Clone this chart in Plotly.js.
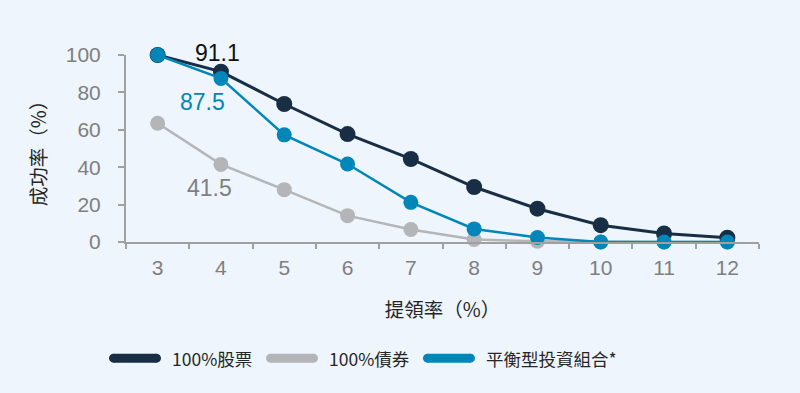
<!DOCTYPE html>
<html>
<head>
<meta charset="utf-8">
<script src="https://cdn.plot.ly/plotly-3.0.1.min.js"></script>
<style>html,body{margin:0;padding:0;background:#EEF5FD;}#chart{width:800px;height:393px;}</style>
</head>
<body>
<div id="chart"></div>
<script>
const categories = ['3','4','5','6','7','8','9','10','11','12'];
const stocks   = [100, 91.1, 73.8, 57.7, 44.4, 29.4, 17.8, 9.0, 4.6, 2.3];
const bonds    = [63.5, 41.5, 28.0, 14.1, 6.7, 1.3, 0.4, 0, 0, 0];
const balanced = [100, 87.5, 57.3, 41.7, 21.2, 7.0, 2.4, 0, 0, 0];
const seriesNames = ['100%股票', '100%債券', '平衡型投資組合*'];
const colors = ['#182E45', '#B4B5B8', '#0086B8'];
const labels = ['91.1', '87.5', '41.5'];

const bgc = '#EEF5FD';
const cjk = '"Noto Sans CJK TC", "Noto Sans", sans-serif';
const lat = '"Liberation Sans", Arial, sans-serif';

const traces = [
  {x: categories, y: bonds, name: seriesNames[1], mode: 'lines+markers',
   line: {color: colors[1], width: 2.5}, marker: {color: colors[1], size: 15}, cliponaxis: false, showlegend: false},
  {x: categories, y: stocks, name: seriesNames[0], mode: 'lines+markers',
   line: {color: colors[0], width: 3}, marker: {color: colors[0], size: 16}, cliponaxis: false, showlegend: false},
  {x: categories, y: balanced, name: seriesNames[2], mode: 'lines+markers',
   line: {color: colors[2], width: 2.5}, marker: {color: colors[2], size: 15}, cliponaxis: false, showlegend: false}
];

// custom legend (rounded bars built from a rect and two circles)
const legX = [[-0.0269, 0.0553], [0.2212, 0.3033], [0.4692, 0.5513]];
const legTextX = [0.0695, 0.3175, 0.5656];
const legY = -0.621;
const shapes = [];
const annotations = [];
[0, 1, 2].forEach((k, i) => {
  const cx = (legX[i][0] + legX[i][1]) / 2;
  const base = {xref: 'paper', yref: 'paper', xsizemode: 'pixel', ysizemode: 'pixel',
    xanchor: cx, yanchor: legY, fillcolor: colors[k], line: {width: 0}};
  shapes.push(Object.assign({}, base, {type: 'rect', x0: -21.5, x1: 21.5, y0: -4.5, y1: 4.5}));
  shapes.push(Object.assign({}, base, {type: 'circle', x0: -26, x1: -17, y0: -4.5, y1: 4.5}));
  shapes.push(Object.assign({}, base, {type: 'circle', x0: 17, x1: 26, y0: -4.5, y1: 4.5}));
  annotations.push({xref: 'paper', yref: 'paper', x: legTextX[i], y: legY, xanchor: 'left', yanchor: 'middle',
    text: seriesNames[k], showarrow: false, font: {family: cjk, size: 17.5, color: '#262626'}});
});

annotations.push({xref: 'paper', yref: 'paper', x: 0.145, y: 1.011, text: labels[0], showarrow: false,
  xanchor: 'center', yanchor: 'middle', font: {family: lat, size: 23, color: '#111111'}});
annotations.push({xref: 'paper', yref: 'paper', x: 0.1216, y: 0.749, text: labels[1], showarrow: false,
  xanchor: 'center', yanchor: 'middle', font: {family: lat, size: 23, color: colors[2]}});
annotations.push({xref: 'paper', yref: 'paper', x: 0.1327, y: 0.291, text: labels[2], showarrow: false,
  xanchor: 'center', yanchor: 'middle', font: {family: lat, size: 23, color: '#7F7F7F'}});

const layout = {
  width: 800, height: 393,
  paper_bgcolor: bgc, plot_bgcolor: bgc,
  margin: {l: 126, r: 41, t: 55, b: 150.5},
  showlegend: false,
  xaxis: {
    type: 'category', range: [-0.5, 9.5], tickson: 'boundaries',
    showgrid: false, zeroline: false, showline: true, linecolor: '#A0A0A0', linewidth: 2,
    ticks: 'outside', ticklen: 5, tickwidth: 2, tickcolor: '#A0A0A0',
    tickfont: {family: lat, size: 21, color: '#7F7F7F'}, ticklabelstandoff: 6,
    title: {text: '提領率（%）', font: {family: cjk, size: 19.5, color: '#262626'}, standoff: 25}
  },
  yaxis: {
    range: [0, 100], dtick: 20, tick0: 0,
    showgrid: false, zeroline: false, showline: true, linecolor: '#A0A0A0', linewidth: 2,
    ticks: 'outside', ticklen: 6, tickwidth: 2, tickcolor: '#A0A0A0',
    tickfont: {family: lat, size: 21, color: '#7F7F7F'}, ticklabelstandoff: 13,
    title: {text: '成功率（%）', font: {family: cjk, size: 19.5, color: '#262626'}, standoff: 14}
  },
  shapes: shapes,
  annotations: annotations
};

Plotly.newPlot('chart', traces, layout, {displayModeBar: false, staticPlot: true});
</script>
</body>
</html>
